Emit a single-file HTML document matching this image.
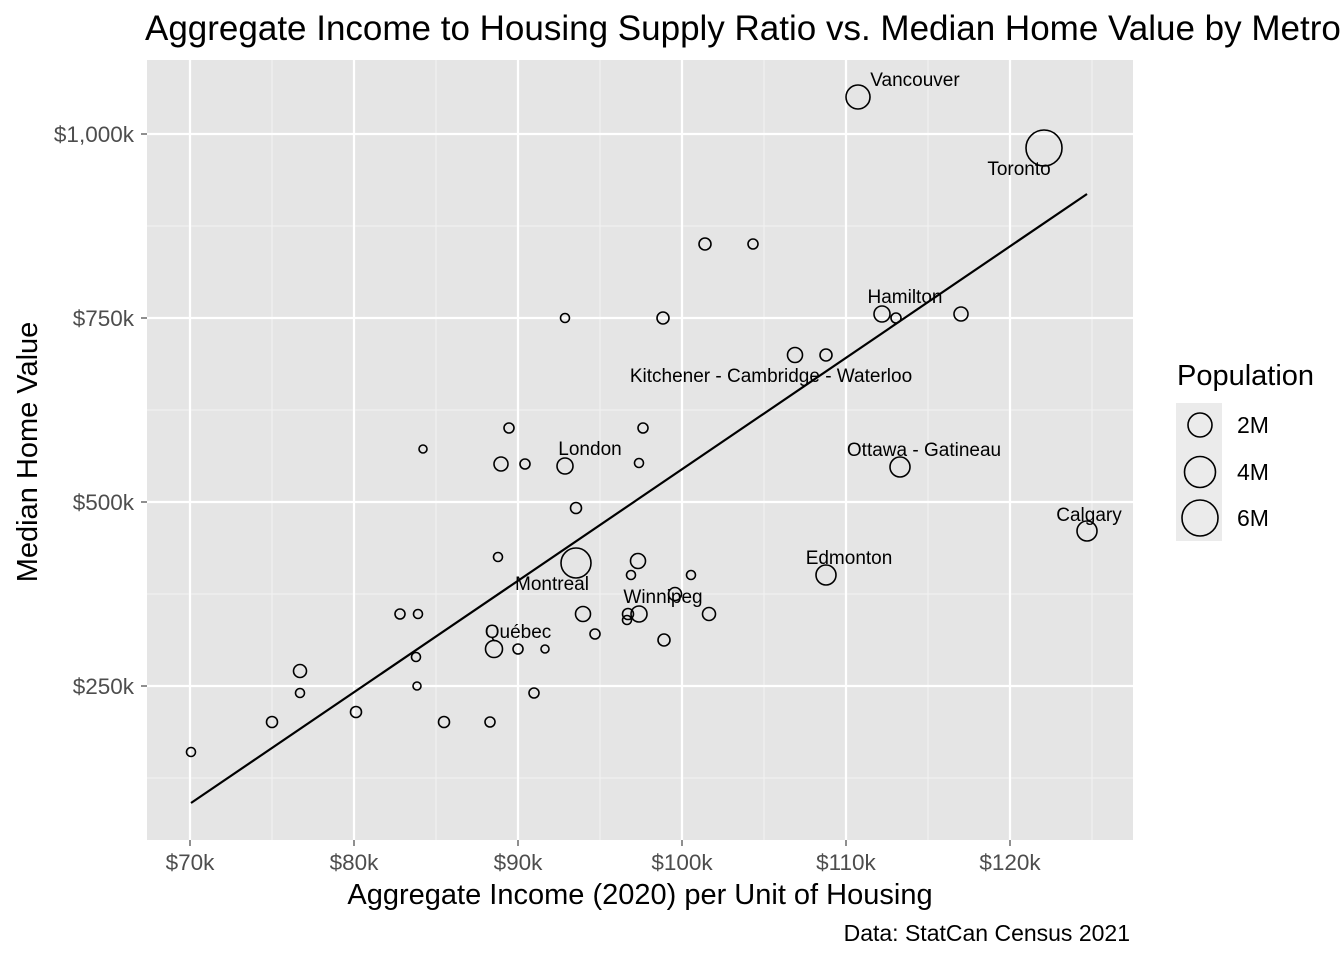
<!DOCTYPE html>
<html><head><meta charset="utf-8"><style>body{margin:0;background:#fff;overflow:hidden}svg{display:block}</style></head><body>
<svg width="1344" height="960" xmlns="http://www.w3.org/2000/svg" font-family="Liberation Sans, Arial, sans-serif">
<rect width="1344" height="960" fill="#fff"/>
<rect x="147" y="60" width="986" height="780" fill="#e5e5e5"/>
<g stroke="#f2f2f2" stroke-width="1.1">
<line x1="147" x2="1133" y1="226" y2="226"/><line x1="147" x2="1133" y1="410" y2="410"/><line x1="147" x2="1133" y1="594" y2="594"/><line x1="147" x2="1133" y1="778" y2="778"/>
<line y1="60" y2="840" x1="272" x2="272"/><line y1="60" y2="840" x1="436" x2="436"/><line y1="60" y2="840" x1="600" x2="600"/><line y1="60" y2="840" x1="764" x2="764"/><line y1="60" y2="840" x1="928" x2="928"/><line y1="60" y2="840" x1="1092" x2="1092"/>
</g>
<g stroke="#fff" stroke-width="2.2">
<line x1="147" x2="1133" y1="134" y2="134"/><line x1="147" x2="1133" y1="318" y2="318"/><line x1="147" x2="1133" y1="502" y2="502"/><line x1="147" x2="1133" y1="686" y2="686"/>
<line y1="60" y2="840" x1="190" x2="190"/><line y1="60" y2="840" x1="354" x2="354"/><line y1="60" y2="840" x1="518" x2="518"/><line y1="60" y2="840" x1="682" x2="682"/><line y1="60" y2="840" x1="846" x2="846"/><line y1="60" y2="840" x1="1010" x2="1010"/>
</g>
<g fill="none" stroke="#000" stroke-width="1.6">
<circle cx="858" cy="97" r="12"/><circle cx="1044" cy="148" r="18"/>
<circle cx="705" cy="244" r="6"/><circle cx="753" cy="244" r="5"/>
<circle cx="565" cy="318" r="4.5"/><circle cx="663" cy="318" r="6"/>
<circle cx="882" cy="314" r="8"/><circle cx="896" cy="318" r="5"/><circle cx="961" cy="314" r="7"/>
<circle cx="795" cy="355" r="7.5"/><circle cx="826" cy="355" r="6"/>
<circle cx="509" cy="428" r="5"/><circle cx="643" cy="428" r="5"/><circle cx="423" cy="449" r="4"/>
<circle cx="501" cy="464" r="7"/><circle cx="525" cy="464" r="5"/><circle cx="565" cy="466" r="8"/><circle cx="639" cy="463" r="4.5"/>
<circle cx="900" cy="467" r="10"/><circle cx="576" cy="508" r="5.5"/><circle cx="1087" cy="531" r="10"/>
<circle cx="498" cy="557" r="4.5"/><circle cx="576" cy="563" r="15"/><circle cx="638" cy="561" r="7.5"/><circle cx="631" cy="575" r="4.5"/><circle cx="691" cy="575" r="4.5"/>
<circle cx="826" cy="575" r="10"/><circle cx="675" cy="594" r="6.5"/>
<circle cx="400" cy="614" r="5"/><circle cx="418" cy="614" r="4.5"/><circle cx="583" cy="614" r="7.5"/><circle cx="628" cy="614" r="5.5"/><circle cx="639" cy="614" r="8"/><circle cx="709" cy="614" r="6.5"/><circle cx="627" cy="620" r="4.5"/>
<circle cx="595" cy="634" r="5"/><circle cx="664" cy="640" r="6"/>
<circle cx="416" cy="657" r="4.5"/><circle cx="494" cy="649" r="8.5"/><circle cx="518" cy="649" r="5"/><circle cx="545" cy="649" r="4"/>
<circle cx="300" cy="671" r="6.5"/><circle cx="417" cy="686" r="4"/><circle cx="300" cy="693" r="4.5"/><circle cx="534" cy="693" r="5"/>
<circle cx="356" cy="712" r="5.5"/><circle cx="272" cy="722" r="5.5"/><circle cx="444" cy="722" r="5.5"/><circle cx="490" cy="722" r="5"/>
<circle cx="191" cy="752" r="4.5"/>
</g>
<line x1="191" y1="803" x2="1087" y2="194" stroke="#000" stroke-width="2.2"/>
<g font-size="19" fill="#000" text-anchor="middle">
<text x="915" y="86">Vancouver</text><text x="1019" y="175">Toronto</text><text x="905" y="303">Hamilton</text>
<text x="771" y="382">Kitchener - Cambridge - Waterloo</text><text x="590" y="455">London</text><text x="924" y="456">Ottawa - Gatineau</text>
<text x="1089" y="521">Calgary</text><text x="849" y="564">Edmonton</text><text x="552" y="590">Montreal</text>
<text x="663" y="603">Winnipeg</text><text x="518" y="638">Québec</text>
</g>
<g font-size="22.5" fill="#4d4d4d" text-anchor="end">
<text x="134" y="142">$1,000k</text><text x="134" y="326">$750k</text><text x="134" y="510">$500k</text><text x="134" y="694">$250k</text>
</g>
<g stroke="#333" stroke-width="1.1">
<line x1="141" x2="147" y1="134" y2="134"/><line x1="141" x2="147" y1="318" y2="318"/><line x1="141" x2="147" y1="502" y2="502"/><line x1="141" x2="147" y1="686" y2="686"/>
<line y1="840" y2="846" x1="190" x2="190"/><line y1="840" y2="846" x1="354" x2="354"/><line y1="840" y2="846" x1="518" x2="518"/><line y1="840" y2="846" x1="682" x2="682"/><line y1="840" y2="846" x1="846" x2="846"/><line y1="840" y2="846" x1="1010" x2="1010"/>
</g>
<g font-size="22.5" fill="#4d4d4d" text-anchor="middle">
<text x="190" y="870">$70k</text><text x="354" y="870">$80k</text><text x="518" y="870">$90k</text><text x="682" y="870">$100k</text><text x="846" y="870">$110k</text><text x="1010" y="870">$120k</text>
</g>
<text x="640" y="904" font-size="29" text-anchor="middle">Aggregate Income (2020) per Unit of Housing</text>
<text transform="translate(37,452) rotate(-90)" font-size="29" text-anchor="middle">Median Home Value</text>
<text x="145" y="40" font-size="35">Aggregate Income to Housing Supply Ratio vs. Median Home Value by Metro</text>
<text x="1130" y="941" font-size="23" text-anchor="end">Data: StatCan Census 2021</text>
<text x="1177" y="385" font-size="29">Population</text>
<rect x="1176" y="403" width="46" height="138" fill="#ebebeb"/>
<g fill="none" stroke="#000" stroke-width="1.6">
<circle cx="1200" cy="425" r="12"/><circle cx="1200" cy="472" r="15.5"/><circle cx="1200" cy="518" r="18"/>
</g>
<g font-size="23"><text x="1237" y="433">2M</text><text x="1237" y="480">4M</text><text x="1237" y="526">6M</text></g>
</svg>
</body></html>
